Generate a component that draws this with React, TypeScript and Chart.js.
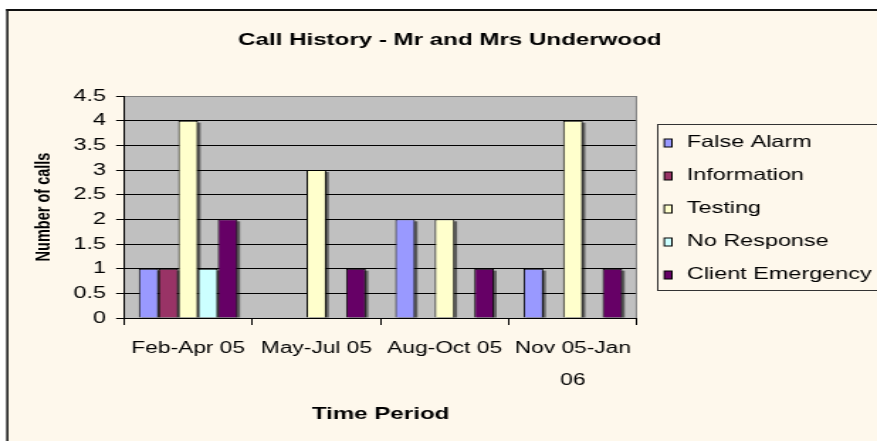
import React, { useEffect, useRef } from 'react';
import { Chart, registerables } from 'chart.js';

Chart.register(...registerables);

// ---- data ----
const categoryLabels: string[][] = [['Feb-Apr 05'], ['May-Jul 05'], ['Aug-Oct 05'], ['Nov 05-Jan', '06']];
const seriesNames = ['False Alarm', 'Information', 'Testing', 'No Response', 'Client Emergency'];
const falseAlarm = [1, 0, 2, 1];
const information = [1, 0, 0, 0];
const testing = [4, 3, 2, 4];
const noResponse = [1, 0, 0, 0];
const clientEmergency = [2, 1, 1, 1];
const seriesColors = ['#9999FF', '#993366', '#FFFFCC', '#CCFFFF', '#660066'];
const yMin = 0;
const yMax = 4.5;
const yStep = 0.5;
const chartTitle = 'Call History - Mr and Mrs Underwood';
const xTitle = 'Time Period';
const yTitle = 'Number of calls';

// ---- layout (logical canvas, stretched horizontally to 877px) ----
const W = 618;
const H = 441;
const SX = 877 / W;
const FONT = '"Liberation Sans", Arial, sans-serif';

const framePlugin = {
  id: 'framePlugin',
  beforeDraw(chart: any) {
    const ctx = chart.ctx;
    const { left, top, right, bottom } = chart.chartArea;
    ctx.save();
    ctx.fillStyle = '#FFFFFF';
    ctx.fillRect(0, 0, W, H);
    ctx.fillStyle = '#FEF8EC';
    ctx.fillRect(5, 10, W, H);
    ctx.fillStyle = '#111111';
    ctx.fillRect(4.4, 9, 1.5, H);
    ctx.fillRect(4.4, 9, W, 2);
    ctx.fillStyle = '#C0C0C0';
    ctx.fillRect(left, top, right - left, bottom - top);
    ctx.restore();
  },
  beforeDatasetsDraw(chart: any) {
    const ctx = chart.ctx;
    const { top, right, bottom } = chart.chartArea;
    ctx.save();
    ctx.strokeStyle = '#808080';
    ctx.lineWidth = 1;
    ctx.beginPath();
    ctx.moveTo(right - 0.5, top);
    ctx.lineTo(right - 0.5, bottom);
    ctx.stroke();
    // bar shadows
    ctx.fillStyle = 'rgba(0,0,0,0.5)';
    chart.data.datasets.forEach((_: any, i: number) => {
      const meta = chart.getDatasetMeta(i);
      meta.data.forEach((el: any) => {
        const { x, y, base, width } = el.getProps(['x', 'y', 'base', 'width'], true);
        const h = base - y;
        if (h <= 2) return;
        ctx.fillRect(x - width / 2 + 1.8, y + 2, width, h - 2);
      });
    });
    ctx.restore();
  },
  afterDraw(chart: any) {
    const ctx = chart.ctx;
    ctx.save();
    // title
    ctx.fillStyle = '#000';
    ctx.font = `bold 17px ${FONT}`;
    ctx.textAlign = 'center';
    ctx.textBaseline = 'middle';
    ctx.fillText(chartTitle, 317, 40);
    // legend
    const lx = 463;
    const ly = 124;
    ctx.strokeStyle = '#333';
    ctx.lineWidth = 1;
    ctx.strokeRect(lx + 0.5, ly + 0.5, W, 166);
    ctx.font = `16.5px ${FONT}`;
    ctx.textAlign = 'left';
    chart.data.datasets.forEach((ds: any, i: number) => {
      const cy = 142.5 + i * 33;
      ctx.fillStyle = '#000';
      ctx.fillRect(467.6, cy - 4, 6.4, 9);
      ctx.fillStyle = ds.backgroundColor;
      ctx.fillRect(468.6, cy - 3, 4.4, 7);
      ctx.fillStyle = '#000';
      ctx.fillText(ds.label, 484, cy);
    });
    ctx.restore();
  },
};

export default function App() {
  const ref = useRef<HTMLCanvasElement>(null);
  useEffect(() => {
    const values = [falseAlarm, information, testing, noResponse, clientEmergency];
    const chart = new Chart(ref.current as HTMLCanvasElement, {
      type: 'bar',
      data: {
        labels: categoryLabels,
        datasets: values.map((v, i) => ({
          label: seriesNames[i],
          data: v,
          backgroundColor: seriesColors[i],
          borderColor: '#000000',
          borderWidth: 1,
          barPercentage: 1,
          categoryPercentage: 0.77,
        })),
      },
      options: {
        responsive: false,
        animation: false,
        devicePixelRatio: 1,
        layout: { padding: { left: 5, right: W - 448.9, top: 96, bottom: 10 } },
        plugins: {
          legend: { display: false },
          title: { display: false },
          tooltip: { enabled: false },
        },
        scales: {
          x: {
            afterFit: (s: any) => { s.height = 113; },
            grid: { display: true, drawOnChartArea: false, drawTicks: true, tickLength: 7, tickColor: '#000', offset: true },
            border: { display: true, color: '#000', width: 1 },
            ticks: { color: '#000', font: { family: FONT, size: 16, lineHeight: 2.0 }, padding: 7.2, maxRotation: 0, autoSkip: false },
            title: { display: true, text: xTitle, color: '#000', font: { family: FONT, size: 17, weight: 'bold' }, padding: { top: 0, bottom: 6 } },
          },
          y: {
            min: yMin,
            max: yMax,
            afterFit: (s: any) => { s.width = 82.4; },
            grid: {
              color: (c: any) => (c.tick && c.tick.value === yMax ? '#808080' : '#000000'),
              lineWidth: 1,
              drawTicks: true,
              tickLength: 5.6,
              tickColor: '#000',
            },
            border: { display: true, color: '#000', width: 1 },
            ticks: {
              stepSize: yStep,
              color: '#000',
              font: { family: FONT, size: 16.5 },
              padding: 7,
              callback: (v: any) => String(Number(v)),
            },
            title: { display: true, text: yTitle, color: '#000', font: { family: FONT, size: 14.5, weight: 'bold' }, padding: { top: 17.3, bottom: 0 } },
          },
        },
      },
      plugins: [framePlugin],
    } as any);
    return () => chart.destroy();
  }, []);
  return (
    <div style={{ position: 'absolute', left: 0, top: 0, width: W, height: H, transform: `scaleX(${SX})`, transformOrigin: '0 0' }}>
      <canvas ref={ref} width={W} height={H} style={{ display: 'block', width: W, height: H }} />
    </div>
  );
}
